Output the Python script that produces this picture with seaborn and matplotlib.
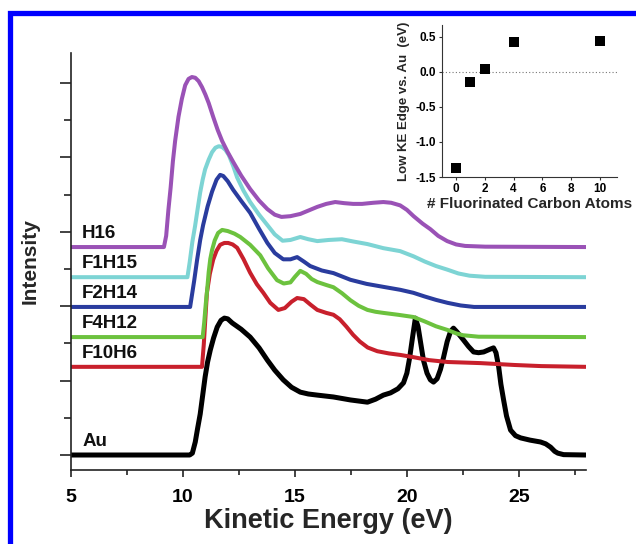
import numpy as np
import pandas as pd
import matplotlib
matplotlib.use("Agg")
import matplotlib.pyplot as plt
from matplotlib.patches import Rectangle
from matplotlib.ticker import MultipleLocator
import seaborn as sns

# ---- spectra (kinetic energy in eV, intensity relative to each trace's baseline) ----
au_ke = [5.0, 10.30, 10.42, 10.55, 10.65, 10.77, 10.88, 10.99, 11.10, 11.22, 11.37,
         11.53, 11.70, 11.85, 12.00, 12.20, 12.60, 13.00, 13.40, 13.77, 14.10, 14.48,
         14.85, 15.24, 15.60, 16.00, 16.72, 17.48, 18.24, 18.60, 18.95, 19.27, 19.60,
         19.85, 20.00, 20.12, 20.25, 20.38, 20.50, 20.62, 20.74, 20.90, 21.05, 21.19,
         21.35, 21.50, 21.64, 21.80, 21.95, 22.08, 22.25, 22.53, 22.75, 22.98, 23.20,
         23.43, 23.70, 23.87, 23.98, 24.10, 24.20, 24.32, 24.45, 24.63, 24.85, 25.08,
         25.50, 25.97, 26.20, 26.42, 26.60, 26.74, 27.00, 28.00]
au_int = [0.0, 0.0, 0.05, 0.35, 0.70, 1.10, 1.60, 2.10, 2.50, 2.82, 3.15,
          3.44, 3.62, 3.68, 3.66, 3.55, 3.38, 3.17, 2.88, 2.55, 2.28, 2.02,
          1.82, 1.69, 1.64, 1.61, 1.56, 1.48, 1.42, 1.50, 1.61, 1.67, 1.78,
          1.94, 2.20, 2.60, 3.15, 3.68, 3.45, 3.00, 2.55, 2.20, 2.02, 1.96,
          2.05, 2.30, 2.63, 3.05, 3.32, 3.41, 3.30, 3.09, 2.92, 2.77, 2.75,
          2.77, 2.84, 2.88, 2.75, 2.37, 1.90, 1.48, 1.05, 0.67, 0.52, 0.46,
          0.40, 0.35, 0.30, 0.21, 0.10, 0.05, 0.01, 0.0]

f10h6_ke = [5.0, 10.85, 10.93, 11.00, 11.07, 11.20, 11.35, 11.50, 11.66, 11.85,
            12.02, 12.22, 12.42, 12.70, 13.00, 13.30, 13.59, 13.90, 14.26, 14.55,
            14.85, 15.10, 15.40, 15.70, 16.00, 16.40, 16.72, 17.00, 17.30, 17.60,
            17.90, 18.25, 18.68, 19.20, 19.71, 20.29, 21.00, 21.82, 23.30, 24.80,
            26.00, 28.00]
f10h6_int = [0.0, 0.0, 0.60, 1.30, 1.99, 2.50, 2.88, 3.12, 3.28, 3.33,
             3.33, 3.29, 3.20, 2.90, 2.53, 2.22, 1.99, 1.72, 1.53, 1.58,
             1.75, 1.85, 1.82, 1.67, 1.53, 1.45, 1.40, 1.28, 1.08, 0.86,
             0.68, 0.52, 0.42, 0.36, 0.32, 0.26, 0.18, 0.13, 0.10, 0.05,
             0.02, 0.0]

f4h12_ke = [5.0, 10.88, 10.95, 11.02, 11.08, 11.15, 11.22, 11.30, 11.42, 11.57,
            11.75, 12.00, 12.30, 12.56, 13.00, 13.45, 13.80, 14.20, 14.50, 14.80,
            15.00, 15.24, 15.50, 15.75, 16.00, 16.40, 16.72, 17.10, 17.48, 17.85,
            18.24, 18.60, 18.95, 19.60, 20.29, 20.80, 21.30, 21.82, 22.20, 22.50,
            23.20, 28.00]
f4h12_int = [0.0, 0.0, 0.40, 0.90, 1.26, 1.75, 2.10, 2.34, 2.60, 2.80,
             2.88, 2.85, 2.78, 2.69, 2.48, 2.20, 1.85, 1.53, 1.44, 1.47,
             1.62, 1.78, 1.70, 1.56, 1.48, 1.40, 1.34, 1.18, 0.99, 0.84,
             0.73, 0.68, 0.65, 0.60, 0.54, 0.42, 0.29, 0.19, 0.10, 0.05,
             0.01, 0.0]

f2h14_ke = [5.0, 10.32, 10.50, 10.63, 10.77, 10.90, 11.10, 11.30, 11.50, 11.66,
            11.80, 12.00, 12.24, 12.60, 13.00, 13.40, 13.77, 14.10, 14.48, 14.80,
            15.10, 15.40, 15.68, 16.20, 16.72, 17.10, 17.48, 18.20, 18.95, 19.71,
            20.29, 20.80, 21.30, 21.82, 22.40, 23.00, 28.00]
f2h14_int = [0.0, 0.0, 0.70, 1.26, 1.80, 2.20, 2.70, 3.10, 3.42, 3.55,
             3.52, 3.38, 3.15, 2.85, 2.53, 2.10, 1.72, 1.45, 1.28, 1.28,
             1.34, 1.22, 1.10, 0.98, 0.91, 0.82, 0.73, 0.62, 0.54, 0.46,
             0.38, 0.28, 0.19, 0.11, 0.04, 0.0, 0.0]

f1h15_ke = [5.0, 10.20, 10.30, 10.42, 10.54, 10.66, 10.77, 10.88, 10.99, 11.15,
            11.30, 11.45, 11.60, 11.75, 11.90, 12.05, 12.25, 12.42, 12.70, 13.00,
            13.40, 13.77, 14.10, 14.45, 14.80, 15.24, 15.60, 16.00, 16.50, 17.10,
            17.60, 18.24, 18.95, 19.70, 20.30, 20.80, 21.30, 21.82, 22.30, 22.80,
            23.50, 28.00]
f1h15_int = [0.0, 0.0, 0.40, 0.95, 1.37, 1.85, 2.28, 2.62, 2.90, 3.16,
             3.36, 3.48, 3.52, 3.50, 3.42, 3.28, 2.98, 2.68, 2.33, 2.02,
             1.68, 1.40, 1.15, 0.98, 1.00, 1.08, 1.02, 0.97, 1.00, 1.02,
             0.96, 0.89, 0.78, 0.70, 0.56, 0.42, 0.30, 0.20, 0.10, 0.04,
             0.01, 0.0]

h16_ke = [5.0, 9.15, 9.25, 9.35, 9.45, 9.55, 9.65, 9.80, 9.95, 10.10,
          10.25, 10.40, 10.55, 10.70, 10.85, 11.00, 11.15, 11.35, 11.55, 11.75,
          12.00, 12.25, 12.60, 13.00, 13.40, 13.77, 14.10, 14.40, 14.80, 15.24,
          15.60, 16.00, 16.40, 16.80, 17.20, 17.60, 18.00, 18.50, 18.95, 19.30,
          19.70, 20.00, 20.30, 20.70, 21.05, 21.40, 21.80, 22.20, 22.60, 23.50,
          28.00]
h16_int = [0.0, 0.0, 0.30, 1.00, 1.60, 2.30, 2.85, 3.50, 3.98, 4.35,
           4.52, 4.57, 4.55, 4.46, 4.30, 4.10, 3.87, 3.50, 3.15, 2.85,
           2.55, 2.28, 1.92, 1.56, 1.25, 1.02, 0.87, 0.81, 0.83, 0.89,
           0.98, 1.08, 1.16, 1.21, 1.18, 1.16, 1.16, 1.19, 1.21, 1.19,
           1.12, 1.00, 0.83, 0.63, 0.48, 0.30, 0.16, 0.07, 0.03, 0.01,
           0.0]

sample_names = ["Au", "F10H6", "F4H12", "F2H14", "F1H15", "H16"]
baselines = [0.0, 2.37, 3.17, 3.98, 4.78, 5.59]
trace_colors = ["#000000", "#C8202C", "#6CC23E", "#2A3C9E", "#7DD4D4", "#9A52B6"]
trace_widths = [3.6, 2.9, 2.9, 2.9, 2.9, 2.9]

# ---- inset: low kinetic-energy edge shift relative to Au ----
n_fluorinated = [0, 1, 2, 4, 10]
edge_shift = [-1.37, -0.14, 0.04, 0.43, 0.44]

spectra = {
    "Au": (au_ke, au_int),
    "F10H6": (f10h6_ke, f10h6_int),
    "F4H12": (f4h12_ke, f4h12_int),
    "F2H14": (f2h14_ke, f2h14_int),
    "F1H15": (f1h15_ke, f1h15_int),
    "H16": (h16_ke, h16_int),
}

frames = []
for name, base in zip(sample_names, baselines):
    ke, inten = spectra[name]
    frames.append(pd.DataFrame({"ke": ke,
                                "intensity": np.asarray(inten) + base,
                                "sample": name}))
df = pd.concat(frames, ignore_index=True)

sns.set_theme(style="ticks")
plt.rcParams["font.family"] = ["Liberation Sans", "DejaVu Sans"]
plt.rcParams["font.weight"] = "bold"

fig = plt.figure(figsize=(6.36, 5.44), dpi=100)
fig.patch.set_facecolor("white")

# blue frame around the figure (runs off the right and bottom edges)
fig.patches.append(Rectangle((9.5 / 636, -0.2), 1.2, 1.2 - 12.5 / 544,
                             transform=fig.transFigure, fill=False,
                             edgecolor="#0000FF", linewidth=3.8, zorder=10))

ax = fig.add_axes([71 / 636, 1 - 470 / 544, 515 / 636, 417 / 544])
for name, color, lw in zip(sample_names, trace_colors, trace_widths):
    sns.lineplot(data=df[df["sample"] == name], x="ke", y="intensity",
                 color=color, linewidth=lw, ax=ax, sort=False,
                 solid_joinstyle="round", solid_capstyle="butt")

for name, base in zip(sample_names, baselines):
    ax.text(5.5, base + 0.36, name, fontsize=13.5, fontweight="bold",
            ha="left", va="center", color="#111111")

ax.set_xlim(5, 28)
ax.set_ylim(-0.403, 10.806)
ax.xaxis.set_major_locator(MultipleLocator(5))
ax.xaxis.set_minor_locator(MultipleLocator(2.5))
ax.yaxis.set_major_locator(MultipleLocator(2))
ax.yaxis.set_minor_locator(MultipleLocator(1))
ax.set_yticklabels([])
ax.tick_params(axis="x", which="major", length=5, width=1.2, labelsize=14,
               pad=9, colors="#222222")
ax.tick_params(axis="x", which="minor", length=3.5, width=1.2, colors="#222222")
ax.tick_params(axis="y", which="major", length=8, width=1.2, colors="#222222")
ax.tick_params(axis="y", which="minor", length=5, width=1.2, colors="#222222")
for lab in ax.get_xticklabels():
    lab.set_fontweight("bold")
    lab.set_color("black")
for side in ["top", "right"]:
    ax.spines[side].set_visible(False)
for side in ["left", "bottom"]:
    ax.spines[side].set_linewidth(1.2)
    ax.spines[side].set_color("#222222")

ax.set_xlabel("Kinetic Energy (eV)", fontsize=19.5, fontweight="bold")
ax.set_ylabel("Intensity", fontsize=15, fontweight="bold")
ax.xaxis.set_label_coords(0.5, -0.09)
ax.xaxis.label.set_va("top")
ax.yaxis.set_label_coords(-0.08, 0.5)
ax.yaxis.label.set_va("center")

# inset
ins = fig.add_axes([442 / 636, 1 - 177 / 544, 175 / 636, 152 / 544])
ins.patch.set_alpha(0)
ins.axhline(0, color="#777777", linestyle=(0, (1, 2)), linewidth=0.8, zorder=1)
sns.scatterplot(x=n_fluorinated, y=edge_shift, marker="s", s=44, color="black",
                edgecolor="black", linewidth=0, ax=ins, zorder=3)
ins.set_xlim(-0.97, 11.18)
ins.set_ylim(-1.5, 0.67)
ins.set_xticks([0, 2, 4, 6, 8, 10])
ins.set_yticks([-1.5, -1.0, -0.5, 0.0, 0.5])
ins.set_yticklabels(["-1.5", "-1.0", "-0.5", "0.0", "0.5"])
ins.tick_params(axis="both", length=2.5, width=0.8, labelsize=8.5, pad=2,
                colors="#333333")
for lab in ins.get_xticklabels() + ins.get_yticklabels():
    lab.set_fontweight("bold")
    lab.set_color("black")
for side in ["top", "right"]:
    ins.spines[side].set_visible(False)
for side in ["left", "bottom"]:
    ins.spines[side].set_linewidth(0.8)
    ins.spines[side].set_color("#333333")
ins.set_xlabel("# Fluorinated Carbon Atoms", fontsize=11, fontweight="bold",
               labelpad=1)
ins.set_ylabel("Low KE Edge vs. Au  (eV)", fontsize=9.5, fontweight="bold",
               labelpad=4)

fig.savefig("out.png", dpi=100)
